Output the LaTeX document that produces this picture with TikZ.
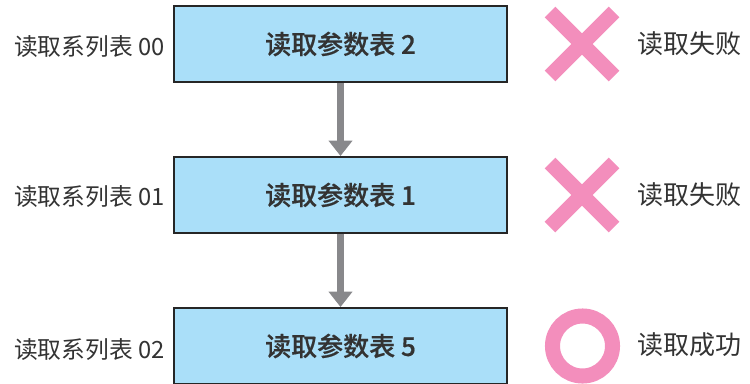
\documentclass[tikz,border=0pt]{standalone}
\usepackage{fontspec}
\setmainfont{Noto Sans CJK SC}[BoldFont={Noto Sans CJK SC Medium}, BoldFeatures={FakeBold=0.5}]
\usetikzlibrary{arrows.meta}

\definecolor{boxblue}{HTML}{AADFF9}
\definecolor{markpink}{HTML}{F38EBC}
\definecolor{arrowgray}{HTML}{88888B}
\definecolor{textgray}{HTML}{333333}

\tikzset{
  tablebox/.style={draw=black!85, line width=1.4pt, fill=boxblue,
    minimum width=8.325cm, minimum height=1.9cm, inner sep=0pt,
    font=\fontsize{18.5}{20}\selectfont\bfseries, text=textgray},
  listlabel/.style={anchor=east, inner sep=0pt,
    font=\fontsize{16.9}{20}\selectfont, text=textgray},
  resultlabel/.style={anchor=west, inner sep=0pt,
    font=\fontsize{18.5}{20}\selectfont, text=textgray},
  flowarrow/.style={draw=arrowgray, line width=5pt,
    -{Triangle[width=16.5pt, length=11pt]}},
  failmark/.style={markpink, line width=10.7pt, line cap=butt},
  okmark/.style={markpink, line width=10.7pt}
}

\begin{document}
\begin{tikzpicture}[x=0.025cm, y=-0.025cm]
  \useasboundingbox (0,0) rectangle (750,383);
  \clip (0,0) rectangle (750,383);

  % the three tables, top to bottom
  \node[tablebox] (T2) at (340.5,44) {读取参数表 2};
  \node[tablebox] (T1) at (340.5,195) {读取参数表 1};
  \node[tablebox] (T5) at (340.5,346) {读取参数表 5};

  \node[listlabel] (L00) at (165,47) {读取系列表 00};
  \node[listlabel] (L01) at (165,197) {读取系列表 01};
  \node[listlabel] (L02) at (165,350) {读取系列表 02};

  \draw[flowarrow] (T2.south) -- (T1.north);
  \draw[flowarrow] (T1.south) -- (T5.north);

  % results
  \coordinate (R2) at (582,44);
  \coordinate (R1) at (582,195);
  \coordinate (R5) at (582.5,346);

  \draw[failmark] ([shift={(-32,-32)}]R2) -- ([shift={(32,32)}]R2);
  \draw[failmark] ([shift={(-32,32)}]R2) -- ([shift={(32,-32)}]R2);
  \draw[failmark] ([shift={(-32,-32)}]R1) -- ([shift={(32,32)}]R1);
  \draw[failmark] ([shift={(-32,32)}]R1) -- ([shift={(32,-32)}]R1);
  \draw[okmark] (R5) circle (30);

  \node[resultlabel] (S2) at (637,44) {读取失败};
  \node[resultlabel] (S1) at (637,195) {读取失败};
  \node[resultlabel] (S5) at (637,345) {读取成功};
\end{tikzpicture}
\end{document}
